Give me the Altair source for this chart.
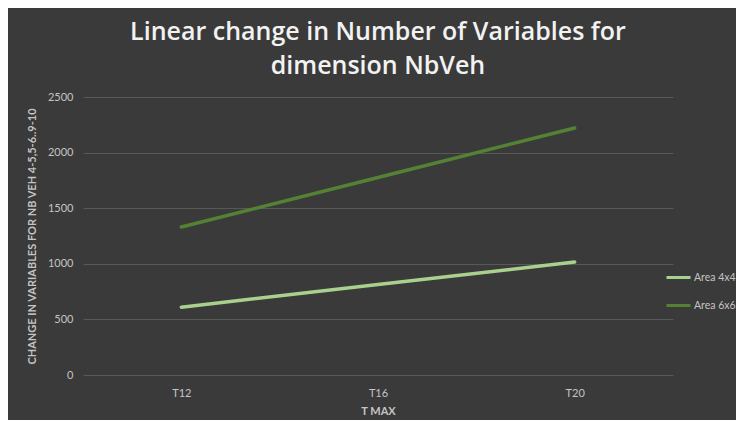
import altair as alt
import pandas as pd

periods = ["T12", "T16", "T20"]
area_4x4 = [610, 813, 1016]
area_6x6 = [1331, 1776, 2221]
series_names = ["Area 4x4", "Area 6x6"]
series_colors = ["#a9d18e", "#548235"]

rows = []
for name, vals in zip(series_names, [area_4x4, area_6x6]):
    for p, v in zip(periods, vals):
        rows.append({"T MAX": p, "value": v, "series": name})
df = pd.DataFrame(rows)

FONT = "Lato"
LABEL = "#c4c4c4"

chart = (
    alt.Chart(df)
    .mark_line(strokeWidth=3.5, strokeCap="round")
    .encode(
        x=alt.X(
            "T MAX:N",
            sort=periods,
            scale=alt.Scale(type="point", padding=0.5),
            axis=alt.Axis(
                title="T MAX",
                labelAngle=0,
                labelPadding=12,
                titlePadding=7,
                domain=False,
                ticks=False,
                grid=False,
            ),
        ),
        y=alt.Y(
            "value:Q",
            scale=alt.Scale(domain=[0, 2500]),
            axis=alt.Axis(
                title="CHANGE  IN VARIABLES  FOR NB VEH 4-5,5-6..9-10",
                values=[0, 500, 1000, 1500, 2000, 2500],
                format="d",
                labelPadding=10,
                titlePadding=10,
                domain=False,
                ticks=False,
                gridColor="#585858",
                gridWidth=1,
            ),
        ),
        color=alt.Color(
            "series:N",
            scale=alt.Scale(domain=series_names, range=series_colors),
            legend=alt.Legend(
                title=None,
                orient="none",
                legendX=582,
                legendY=167,
                symbolType="M-1,0H1",
                symbolSize=576,
                symbolStrokeWidth=3,
                labelFontSize=10.5,
                labelColor=LABEL,
                labelFont=FONT,
                rowPadding=8,
                labelOffset=2,
            ),
        ),
    )
    .properties(
        width=590,
        height=278,
        background="#3a3a3a",
        padding={"left": 18, "top": 12, "right": 0, "bottom": 4},
        title=alt.TitleParams(
            text=["Linear change in Number of Variables for", "dimension NbVeh"],
            fontSize=25,
            font="Open Sans",
            fontWeight=600,
            color="#f2f2f2",
            anchor="middle",
            frame="group",
            lineHeight=34,
            offset=12,
        ),
    )
    .configure_view(stroke=None)
    .configure_axis(
        labelFont=FONT,
        titleFont=FONT,
        labelColor=LABEL,
        titleColor=LABEL,
        labelFontSize=11,
        titleFontSize=11,
        titleFontWeight="bold",
    )
)

chart.save("out.html", embed_options={"renderer": "svg", "actions": False})
